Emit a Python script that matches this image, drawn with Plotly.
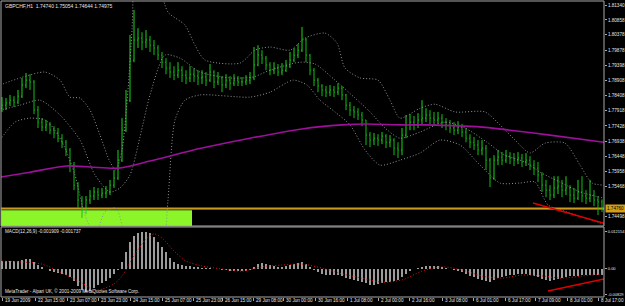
import plotly.graph_objects as go

# ---------------- data ----------------
symbol_title = "GBPCHF,H1  1.74740 1.75054 1.74644 1.74975"
macd_title = "MACD(12,26,9) -0.001909 -0.001737"
copyright_text = "MetaTrader - Alpari UK, \u00a9 2001-2009 MetaQuotes Software Corp."

first_open = 1.7800
close = [
    1.7810, 1.7817, 1.7826, 1.7820, 1.7839, 1.7875, 1.7891, 1.7885, 1.7794, 1.7755,
    1.7739, 1.7746, 1.7729, 1.7720, 1.7703, 1.7690, 1.7665, 1.7616, 1.7551, 1.7503,
    1.7470, 1.7503, 1.7516, 1.7529, 1.7519, 1.7525, 1.7529, 1.7551, 1.7574, 1.7632,
    1.7729, 1.7826, 1.7956, 1.8021, 1.8027, 1.8014, 1.8021, 1.8004, 1.7995, 1.7972,
    1.7949, 1.7930, 1.7917, 1.7907, 1.7923, 1.7907, 1.7898, 1.7910, 1.7904, 1.7898,
    1.7901, 1.7891, 1.7917, 1.7885, 1.7898, 1.7875, 1.7891, 1.7881, 1.7891, 1.7885,
    1.7885, 1.7891, 1.7898, 1.7940, 1.7972, 1.7962, 1.7940, 1.7923, 1.7930, 1.7917,
    1.7923, 1.7936, 1.7956, 1.7972, 1.7988, 1.8021, 1.7972, 1.7923, 1.7891, 1.7872,
    1.7859, 1.7852, 1.7859, 1.7852, 1.7865, 1.7843, 1.7810, 1.7794, 1.7788, 1.7778,
    1.7762, 1.7713, 1.7697, 1.7703, 1.7697, 1.7710, 1.7690, 1.7697, 1.7671, 1.7665,
    1.7713, 1.7746, 1.7755, 1.7746, 1.7762, 1.7768, 1.7778, 1.7768, 1.7762, 1.7768,
    1.7755, 1.7746, 1.7736, 1.7729, 1.7739, 1.7723, 1.7703, 1.7690, 1.7681, 1.7665,
    1.7671, 1.7632, 1.7574, 1.7632, 1.7642, 1.7632, 1.7645, 1.7639, 1.7632, 1.7639,
    1.7626, 1.7632, 1.7616, 1.7606, 1.7584, 1.7551, 1.7535, 1.7519, 1.7542, 1.7548,
    1.7535, 1.7542, 1.7519, 1.7509, 1.7529, 1.7516, 1.7509, 1.7519, 1.7503, 1.7497,
    1.7474]
high = [
    1.7836, 1.7833, 1.7843, 1.7839, 1.7859, 1.7898, 1.7914, 1.7910, 1.7891, 1.7807,
    1.7768, 1.7762, 1.7755, 1.7742, 1.7736, 1.7716, 1.7697, 1.7671, 1.7626, 1.7561,
    1.7516, 1.7516, 1.7535, 1.7545, 1.7542, 1.7542, 1.7548, 1.7568, 1.7600, 1.7665,
    1.7768, 1.7859, 1.8037, 1.8118, 1.8059, 1.8046, 1.8053, 1.8034, 1.8021, 1.8004,
    1.7982, 1.7962, 1.7949, 1.7936, 1.7949, 1.7936, 1.7923, 1.7936, 1.7930, 1.7923,
    1.7923, 1.7917, 1.7943, 1.7923, 1.7917, 1.7904, 1.7910, 1.7904, 1.7910, 1.7904,
    1.7901, 1.7907, 1.7917, 1.7998, 1.8004, 1.7988, 1.7969, 1.7949, 1.7949, 1.7943,
    1.7946, 1.7956, 1.7982, 1.7995, 1.8008, 1.8063, 1.8027, 1.7975, 1.7930, 1.7898,
    1.7878, 1.7872, 1.7875, 1.7872, 1.7881, 1.7872, 1.7846, 1.7820, 1.7807, 1.7800,
    1.7788, 1.7762, 1.7723, 1.7720, 1.7716, 1.7723, 1.7716, 1.7713, 1.7703, 1.7690,
    1.7736, 1.7778, 1.7781, 1.7775, 1.7784, 1.7826, 1.7800, 1.7794, 1.7788, 1.7788,
    1.7781, 1.7768, 1.7762, 1.7755, 1.7758, 1.7749, 1.7736, 1.7716, 1.7707, 1.7697,
    1.7697, 1.7681, 1.7639, 1.7648, 1.7665, 1.7658, 1.7665, 1.7658, 1.7655, 1.7658,
    1.7652, 1.7655, 1.7645, 1.7632, 1.7626, 1.7593, 1.7568, 1.7551, 1.7580, 1.7580,
    1.7568, 1.7580, 1.7551, 1.7542, 1.7568, 1.7580, 1.7535, 1.7568, 1.7535, 1.7516,
    1.7505]
low = [
    1.7788, 1.7794, 1.7807, 1.7804, 1.7813, 1.7833, 1.7865, 1.7859, 1.7781, 1.7736,
    1.7726, 1.7726, 1.7716, 1.7703, 1.7690, 1.7671, 1.7645, 1.7593, 1.7535, 1.7477,
    1.7445, 1.7457, 1.7490, 1.7503, 1.7503, 1.7509, 1.7509, 1.7519, 1.7542, 1.7568,
    1.7626, 1.7723, 1.7820, 1.7949, 1.7995, 1.7988, 1.7995, 1.7982, 1.7972, 1.7956,
    1.7930, 1.7910, 1.7898, 1.7891, 1.7898, 1.7885, 1.7878, 1.7885, 1.7885, 1.7875,
    1.7878, 1.7872, 1.7885, 1.7865, 1.7875, 1.7852, 1.7865, 1.7859, 1.7872, 1.7872,
    1.7872, 1.7875, 1.7878, 1.7891, 1.7936, 1.7943, 1.7923, 1.7907, 1.7910, 1.7904,
    1.7907, 1.7917, 1.7930, 1.7949, 1.7962, 1.7982, 1.7949, 1.7907, 1.7872, 1.7852,
    1.7839, 1.7836, 1.7839, 1.7836, 1.7843, 1.7826, 1.7794, 1.7775, 1.7768, 1.7762,
    1.7742, 1.7681, 1.7674, 1.7681, 1.7678, 1.7684, 1.7671, 1.7674, 1.7648, 1.7639,
    1.7648, 1.7703, 1.7729, 1.7729, 1.7736, 1.7749, 1.7755, 1.7749, 1.7742, 1.7749,
    1.7736, 1.7729, 1.7720, 1.7713, 1.7716, 1.7707, 1.7690, 1.7671, 1.7665, 1.7648,
    1.7648, 1.7600, 1.7545, 1.7568, 1.7616, 1.7616, 1.7623, 1.7619, 1.7613, 1.7619,
    1.7610, 1.7613, 1.7600, 1.7584, 1.7561, 1.7529, 1.7512, 1.7503, 1.7509, 1.7522,
    1.7512, 1.7519, 1.7496, 1.7493, 1.7503, 1.7496, 1.7490, 1.7496, 1.7483, 1.7454,
    1.7464]

# moving average (magenta) read at points along the chart
ma_idx = [-0.5, 7, 16, 22, 29, 37, 50, 62, 75, 85, 91, 100, 106, 120, 127, 137, 150.5]
ma_val = [1.7577, 1.7593, 1.7613, 1.7610, 1.7606, 1.7629, 1.7671, 1.7703, 1.7733,
          1.7746, 1.7749, 1.7746, 1.7746, 1.7739, 1.7729, 1.7713, 1.7690]

# dotted bands (upper / middle / lower) read at points
up_idx = [-0.5, 4.5, 10.75, 14.5, 17, 19.5, 22, 24.5, 27, 28.5,
          30, 31.5, 32.5, 33.5, 37, 39.5, 41.5, 45.75, 48.25, 50.75,
          59.5, 63.25, 67, 72, 75.75, 80.75, 83.75, 85.75, 89.5, 94,
          97, 99.5, 104.5, 108.25, 113.25, 120.75, 124.5, 128.25, 132, 135.75,
          140.75, 144.5, 147.5, 150.5]
up_val = [1.7875, 1.7898, 1.7917, 1.7891, 1.7836, 1.7833, 1.7794, 1.7713, 1.7626, 1.7600,
          1.7665, 1.7859, 1.8053, 1.8280, 1.8377, 1.8199, 1.8111, 1.8069, 1.8004, 1.7956,
          1.7946, 1.7988, 1.7998, 1.7988, 1.8027, 1.8043, 1.8011, 1.7930, 1.7898, 1.7891,
          1.7826, 1.7768, 1.7800, 1.7813, 1.7788, 1.7788, 1.7746, 1.7697, 1.7655, 1.7687,
          1.7687, 1.7616, 1.7558, 1.7551]
mid_idx = [-0.5, 4.5, 9.5, 14.5, 19.5, 23.25, 27, 29.5, 32, 34.5,
           37, 40.75, 44.5, 49.5, 57, 62.75, 67, 74.5, 78.25, 83.25,
           88.25, 92, 95.75, 99.5, 104.5, 110.75, 115.75, 121.25, 125.75, 130.75,
           134.5, 139.5, 144.5, 150.5]
mid_val = [1.7794, 1.7810, 1.7826, 1.7778, 1.7697, 1.7584, 1.7529, 1.7542, 1.7584, 1.7707,
           1.7843, 1.7972, 1.7962, 1.7917, 1.7898, 1.7901, 1.7923, 1.7949, 1.7943, 1.7891,
           1.7833, 1.7788, 1.7736, 1.7703, 1.7723, 1.7755, 1.7736, 1.7690, 1.7648, 1.7626,
           1.7593, 1.7561, 1.7529, 1.7509]
lo_idx = [-0.5, 3.25, 7, 10.75, 13.25, 15.75, 18.25, 20.75, 23.25, 25.75,
          28.5, 30, 32, 35.75, 39.5, 41.5, 43.25, 45.75, 49.5, 62,
          67, 72.75, 76.25, 79.5, 83.25, 87, 90.75, 94.5, 99.5, 104.5,
          109.5, 114.5, 119.5, 124.5, 129.5, 133.25, 136.5, 141.25, 145.75, 150.5]
lo_val = [1.7697, 1.7755, 1.7768, 1.7762, 1.7729, 1.7671, 1.7584, 1.7454, 1.7390, 1.7464,
          1.7477, 1.7422, 1.7244, 1.7115, 1.7212, 1.7503, 1.7762, 1.7826, 1.7843, 1.7836,
          1.7852, 1.7891, 1.7875, 1.7826, 1.7788, 1.7746, 1.7665, 1.7616, 1.7632, 1.7655,
          1.7697, 1.7681, 1.7616, 1.7558, 1.7558, 1.7561, 1.7487, 1.7464, 1.7445, 1.7425]

# MACD histogram (one value per bar) and signal line
macd = [
    0.0026, 0.0026, 0.0026, 0.0026, 0.0026, 0.0030, 0.0033, 0.0033, 0.0023, 0.0013,
    0.0007, 0.0, -0.0007, -0.0010, -0.0013, -0.0016, -0.0020, -0.0026, -0.0039, -0.0056,
    -0.0069, -0.0075, -0.0072, -0.0062, -0.0052, -0.0046, -0.0039, -0.0030, -0.0016, -0.0003,
    0.0023, 0.0056, 0.0089, 0.0108, 0.0118, 0.0121, 0.0121, 0.0118, 0.0105, 0.0089,
    0.0072, 0.0056, 0.0036, 0.0023, 0.0016, 0.0013, 0.0010, 0.0010, 0.0007, 0.0007,
    0.0003, 0.0003, 0.0003, 0.0, 0.0, -0.0003, -0.0003, -0.0007, -0.0007, -0.0007,
    -0.0007, -0.0007, -0.0003, 0.0007, 0.0016, 0.0020, 0.0016, 0.0013, 0.0010, 0.0007,
    0.0007, 0.0010, 0.0013, 0.0016, 0.0020, 0.0023, 0.0016, 0.0007, -0.0003, -0.0010,
    -0.0016, -0.0020, -0.0020, -0.0020, -0.0020, -0.0023, -0.0030, -0.0033, -0.0036, -0.0039,
    -0.0043, -0.0046, -0.0052, -0.0052, -0.0049, -0.0046, -0.0043, -0.0043, -0.0039, -0.0036,
    -0.0026, -0.0016, -0.0007, 0.0, 0.0003, 0.0007, 0.0010, 0.0010, 0.0010, 0.0010,
    0.0007, 0.0003, 0.0, -0.0003, -0.0007, -0.0010, -0.0016, -0.0023, -0.0026, -0.0033,
    -0.0036, -0.0039, -0.0043, -0.0036, -0.0030, -0.0026, -0.0023, -0.0020, -0.0020, -0.0016,
    -0.0016, -0.0016, -0.0020, -0.0023, -0.0026, -0.0033, -0.0036, -0.0039, -0.0036, -0.0033,
    -0.0030, -0.0026, -0.0023, -0.0023, -0.0023, -0.0020, -0.0020, -0.0020, -0.0020, -0.0020,
    -0.0019]
sig_idx = [0, 5, 10, 15, 20, 23, 25, 28, 30, 33, 36, 38, 40, 43, 46, 50, 55, 60, 65, 70,
           75, 80, 85, 90, 95, 100, 105, 110, 115, 120, 125, 130, 135, 140, 145, 150]
sig_val = [0.0026, 0.0023, 0.0016, -0.0013, -0.0046, -0.0069, -0.0066, -0.0049, -0.0023, 0.0043,
           0.0098, 0.0115, 0.0102, 0.0059, 0.0026, 0.0010, 0.0, -0.0007, 0.0007, 0.0013,
           0.0016, 0.0003, -0.0016, -0.0030, -0.0043, -0.0036, -0.0007, 0.0007, -0.0003, -0.0023,
           -0.0030, -0.0020, -0.0023, -0.0030, -0.0023, -0.0017]

# drawn objects
trend_price_idx = [132.75, 150.5]
trend_price_val = [1.7493, 1.7428]
trend_macd_idx = [136.5, 150.5]
trend_macd_val = [-0.0072, -0.0033]
hline_orange = 1.7476
hline_bid = 1.7473
hline_orange_text = "1.74760"
rect_bars = [-0.25, 47.5]
rect_prices = [1.74189, 1.7470]

# axis labels
price_tick_text = ["1.81340", "1.80858", "1.80378", "1.79878", "1.79398", "1.78908", "1.78408",
                   "1.77918", "1.77428", "1.76938", "1.76448", "1.75958", "1.75468", "1.74498"]
macd_tick_vals = [0.012154, 0.0, -0.00829]
macd_tick_text = ["0.012154", "0.00", "-0.00829"]
time_labels = ["19 Jun 2009", "22 Jun 15:00", "23 Jun 07:00", "23 Jun 23:00", "24 Jun 15:00",
               "25 Jun 07:00", "25 Jun 23:00", "26 Jun 15:00", "29 Jun 08:00", "30 Jun 00:00",
               "30 Jun 16:00", "1 Jul 08:00", "2 Jul 00:00", "2 Jul 16:00", "3 Jul 08:00",
               "6 Jul 01:00", "6 Jul 17:00", "7 Jul 09:00", "8 Jul 01:00", "8 Jul 17:00"]
time_label_bars = [0, 8.25, 16.25, 24, 32, 40, 47.75, 55, 62.75, 70.25,
                   78.25, 86.25, 94, 101.75, 110, 117.75, 125.75, 133.25, 141.25, 149]

# ---------------- figure ----------------
bar_index = list(range(len(close)))
open_ = [first_open] + close[:-1]

axis_color = "#a8a8a8"
text_color = "#e6e6e6"
band_color = "#8a9595"
FONT = "Liberation Sans, Arial, sans-serif"
SMALL = 4.6

fig = go.Figure()

fig.add_trace(go.Ohlc(
    x=bar_index, open=open_, high=high, low=low, close=close,
    increasing=dict(line=dict(color="#1ad41a", width=1)),
    decreasing=dict(line=dict(color="#14be14", width=1)),
    tickwidth=0.2, xaxis="x", yaxis="y", hoverinfo="skip"))

for bx, by in ((up_idx, up_val), (mid_idx, mid_val), (lo_idx, lo_val)):
    fig.add_trace(go.Scatter(x=bx, y=by, mode="lines", xaxis="x", yaxis="y",
                             line=dict(color=band_color, width=1, dash="1px,2px",
                                       shape="spline", smoothing=0.7),
                             hoverinfo="skip"))

fig.add_trace(go.Scatter(x=ma_idx, y=ma_val, mode="lines", xaxis="x", yaxis="y",
                         line=dict(color="#9e0f9c", width=1.6, shape="spline", smoothing=0.8),
                         hoverinfo="skip"))

fig.add_trace(go.Scatter(x=trend_price_idx, y=trend_price_val, mode="lines", xaxis="x", yaxis="y",
                         line=dict(color="#e00000", width=1.5), hoverinfo="skip"))

fig.add_trace(go.Bar(x=bar_index, y=macd, width=0.4, xaxis="x", yaxis="y2",
                     marker=dict(color="#9c9c9c", line=dict(width=0)), hoverinfo="skip"))
fig.add_trace(go.Scatter(x=sig_idx, y=sig_val, mode="lines", xaxis="x", yaxis="y2",
                         line=dict(color="#e01010", width=1, dash="1px,2px", shape="spline",
                                   smoothing=0.8),
                         hoverinfo="skip"))
fig.add_trace(go.Scatter(x=trend_macd_idx, y=trend_macd_val, mode="lines", xaxis="x", yaxis="y2",
                         line=dict(color="#e00000", width=1.5), hoverinfo="skip"))

shapes = [
    dict(type="rect", xref="x", yref="y", x0=rect_bars[0], x1=rect_bars[1],
         y0=rect_prices[0], y1=rect_prices[1], fillcolor="#8cf52a",
         line=dict(width=0), layer="below"),
    dict(type="line", xref="paper", yref="y", x0=0, x1=1, y0=hline_bid, y1=hline_bid,
         line=dict(color="#7a7a7a", width=1), layer="below"),
    dict(type="line", xref="paper", yref="y", x0=0, x1=1, y0=hline_orange, y1=hline_orange,
         line=dict(color="#c99a1e", width=1.5), layer="below"),
    dict(type="rect", xref="paper", yref="y domain", x0=0, x1=1, y0=0, y1=1,
         line=dict(color=axis_color, width=1), fillcolor="rgba(0,0,0,0)", layer="above"),
    dict(type="rect", xref="paper", yref="y2 domain", x0=0, x1=1, y0=0, y1=1,
         line=dict(color=axis_color, width=1), fillcolor="rgba(0,0,0,0)", layer="above"),
]

annotations = [
    dict(xref="paper", yref="paper", x=0.004, y=0.983, xanchor="left", yanchor="middle",
         text=symbol_title, showarrow=False, font=dict(family=FONT, size=5, color=text_color)),
    dict(xref="paper", yref="paper", x=0.004, y=0.2196, xanchor="left", yanchor="middle",
         text=macd_title, showarrow=False, font=dict(family=FONT, size=SMALL, color=text_color)),
    dict(xref="paper", yref="paper", x=0.004, y=0.0203, xanchor="left", yanchor="middle",
         text=copyright_text, showarrow=False, font=dict(family=FONT, size=SMALL, color=text_color)),
    dict(xref="paper", yref="y", x=1, xshift=1, y=hline_orange, xanchor="left", yanchor="middle",
         text=hline_orange_text, showarrow=False, bgcolor="#d4a017", borderpad=1,
         font=dict(family=FONT, size=SMALL, color="#000000")),
]
for lab, pos in zip(time_labels, time_label_bars):
    annotations.append(dict(xref="x", yref="paper", x=pos, xshift=1, y=-0.0135,
                            xanchor="left", yanchor="middle", text=lab, showarrow=False,
                            font=dict(family=FONT, size=SMALL, color=text_color)))

fig.update_layout(
    template="none", width=625, height=306,
    margin=dict(l=1, r=21, t=1, b=9, pad=0),
    paper_bgcolor="#000000", plot_bgcolor="#000000",
    showlegend=False, bargap=0, hovermode=False,
    xaxis=dict(domain=[0, 1], anchor="y2", range=[-0.25, 150.5], showgrid=False,
               zeroline=False, showticklabels=False, ticks="outside", ticklen=3,
               tickcolor=axis_color, tickvals=time_label_bars, showline=False,
               rangeslider=dict(visible=False), automargin=False, fixedrange=True),
    yaxis=dict(domain=[0.2399, 1], anchor="x", range=[1.74189, 1.81470], side="right",
               showgrid=False, zeroline=False, showline=False,
               tickvals=[float(t) for t in price_tick_text], ticktext=price_tick_text,
               ticks="outside", ticklen=2, tickcolor=axis_color,
               tickfont=dict(family=FONT, size=SMALL, color=text_color), automargin=False),
    yaxis2=dict(domain=[0, 0.2365], anchor="x", range=[-0.009184, 0.013776], side="right",
                showgrid=False, zeroline=False, showline=False,
                tickvals=macd_tick_vals, ticktext=macd_tick_text,
                ticks="outside", ticklen=2, tickcolor=axis_color,
                tickfont=dict(family=FONT, size=4.0, color=text_color), automargin=False),
    shapes=shapes, annotations=annotations,
)

fig.write_html("out.html")
